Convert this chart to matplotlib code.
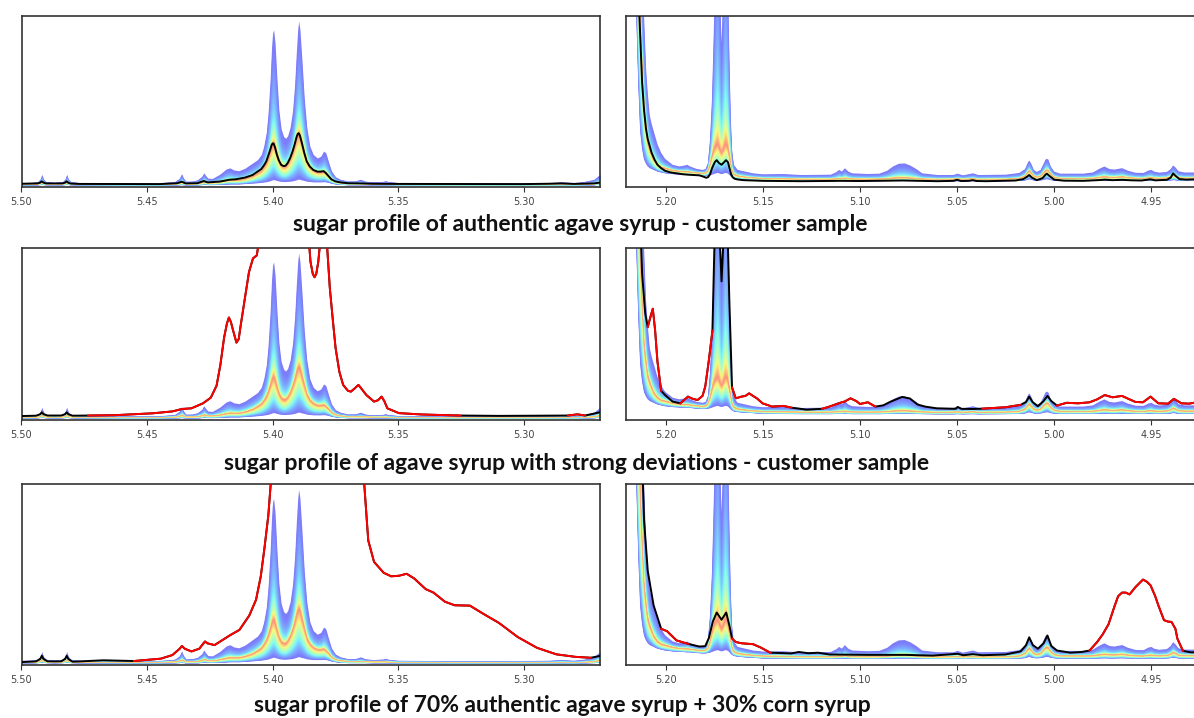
import numpy as np
import matplotlib
matplotlib.use("Agg")
import matplotlib.pyplot as plt
from matplotlib.ticker import MultipleLocator, FormatStrFormatter

# ---- reference band, left window (ppm, lower / median / upper envelope) ----
left_x = [5.500, 5.4960, 5.4935, 5.4925, 5.4919, 5.4913, 5.4903, 5.4870, 5.4836, 5.4826,
          5.4820, 5.4814, 5.4804, 5.4770, 5.4600, 5.4450, 5.4390, 5.4372, 5.4362, 5.4356,
          5.4346, 5.4320, 5.4300, 5.4282, 5.4274, 5.4268, 5.4258, 5.4240, 5.4210, 5.4185,
          5.4170, 5.4155, 5.4135, 5.4110, 5.4080, 5.4060, 5.4045, 5.4035, 5.4025, 5.4018,
          5.4010, 5.4004, 5.4000, 5.3996, 5.3990, 5.3983, 5.3975, 5.3966, 5.3956, 5.3948,
          5.3940, 5.3930, 5.3920, 5.3912, 5.3905, 5.3900, 5.3896, 5.3891, 5.3883, 5.3874,
          5.3864, 5.3852, 5.3838, 5.3822, 5.3808, 5.3797, 5.3788, 5.3778, 5.3766, 5.3750,
          5.3730, 5.3700, 5.3670, 5.3650, 5.3630, 5.3600, 5.3560, 5.3550, 5.3540, 5.3500,
          5.3300, 5.3100, 5.2900, 5.2850, 5.2800, 5.2760, 5.2720, 5.2696]
left_lo = [1.2, 1.2, 1.3, 1.4, 1.5, 1.4, 1.3, 1.2, 1.3, 1.4,
           1.5, 1.4, 1.3, 1.2, 1.1, 1.1, 1.2, 1.3, 1.4, 1.3,
           1.2, 1.2, 1.2, 1.4, 1.5, 1.5, 1.4, 1.4, 1.5, 1.7,
           1.8, 1.8, 1.8, 2.0, 2.3, 2.5, 2.7, 2.9, 3.1, 3.3,
           3.7, 4.0, 4.2, 4.3, 4.1, 3.8, 3.5, 3.3, 3.2, 3.2,
           3.3, 3.4, 3.6, 3.9, 4.2, 4.5, 4.6, 4.4, 4.1, 3.8,
           3.4, 3.2, 3.0, 3.0, 3.0, 3.1, 3.0, 2.7, 2.2, 1.8,
           1.5, 1.3, 1.3, 1.3, 1.3, 1.2, 1.2, 1.2, 1.2, 1.1,
           1.1, 1.1, 1.1, 1.1, 1.1, 1.2, 1.3, 1.6]
left_med = [1.9, 1.9, 2.1, 2.5, 3.0, 2.5, 2.1, 1.9, 2.1, 2.5,
            3.0, 2.5, 2.1, 1.9, 1.8, 1.8, 2.0, 2.5, 3.0, 2.6,
            2.1, 2.1, 2.3, 2.8, 3.3, 3.1, 2.7, 2.7, 3.2, 4.0,
            4.3, 4.2, 4.3, 5.0, 6.5, 8.3, 9.8, 11.8, 14.3, 17,
            20.5, 23.5, 24.8, 25, 22.5, 18.8, 15.2, 12.8, 12, 12.3,
            13.8, 16.5, 20.5, 24.5, 28.5, 30.5, 31, 29.5, 25, 19.8,
            14.8, 11.8, 9.8, 8.8, 8.8, 9.1, 8.0, 6.6, 4.6, 3.3,
            2.7, 2.3, 2.2, 2.2, 2.1, 2.0, 2.0, 2.0, 1.9, 1.8,
            1.7, 1.7, 1.7, 1.8, 1.7, 1.8, 2.2, 2.9]
left_hi = [2.6, 2.7, 3.2, 4.8, 7.4, 4.8, 3.2, 2.7, 3.2, 4.8,
           7.4, 4.8, 3.2, 2.6, 2.5, 2.5, 3.2, 5.0, 7.8, 5.5,
           3.4, 3.5, 4.2, 6.2, 8.3, 7.0, 5.2, 5.0, 7.5, 10.5,
           11.2, 10.0, 9.5, 11, 14, 16, 19, 24, 32, 43,
           62, 82, 90, 92, 84, 64, 45, 34, 29.5, 28.5,
           30, 35, 45, 60, 80, 92, 97, 92, 74, 52,
           35, 24, 19, 17, 18, 21, 20, 15, 9.5, 6.0,
           4.5, 3.5, 3.6, 4.5, 3.4, 3.0, 3.3, 3.7, 3.2, 2.6,
           2.4, 2.4, 2.6, 3.0, 2.6, 3.2, 4.5, 7.5]

# ---- reference band, right window ----
right_x = [5.2206, 5.2170, 5.2152, 5.2142, 5.2132, 5.2122, 5.2112, 5.2102, 5.2093, 5.2083,
           5.2073, 5.2063, 5.2043, 5.2024, 5.2004, 5.1965, 5.1930, 5.1905, 5.1890, 5.1875,
           5.1840, 5.1810, 5.1795, 5.1783, 5.1772, 5.1762, 5.1752, 5.1742, 5.1732, 5.1722,
           5.1713, 5.1703, 5.1693, 5.1683, 5.1674, 5.1666, 5.1659, 5.1650, 5.1630, 5.1590,
           5.1551, 5.1500, 5.1400, 5.1300, 5.1150, 5.1120, 5.1108, 5.1093, 5.1078, 5.1060,
           5.1040, 5.0960, 5.0900, 5.0860, 5.0830, 5.0800, 5.0770, 5.0740, 5.0710, 5.0680,
           5.0600, 5.0520, 5.0497, 5.0470, 5.0418, 5.0390, 5.0250, 5.0180, 5.0150, 5.0137,
           5.0129, 5.0120, 5.0105, 5.0090, 5.0070, 5.0055, 5.0045, 5.0038, 5.0030, 5.0018,
           5.0000, 4.9970, 4.9850, 4.9800, 4.9770, 4.9742, 4.9715, 4.9690, 4.9650, 4.9620,
           4.9580, 4.9540, 4.9515, 4.9500, 4.9485, 4.9460, 4.9420, 4.9400, 4.9388, 4.9376,
           4.9360, 4.9330, 4.9300, 4.9270]
right_lo = [400, 200, 100, 61, 32, 22, 16, 13.5, 12, 11,
            10.5, 10, 9.0, 8.5, 8.0, 7.5, 7.3, 7.1, 7.0, 7.0,
            6.6, 6.4, 6.4, 6.6, 6.8, 7.2, 7.6, 8.0, 8.2, 7.8,
            7.5, 7.8, 8.2, 8.0, 7.2, 6.2, 5.6, 5.0, 4.6, 4.2,
            4.0, 3.6, 3.5, 3.4, 3.4, 3.5, 3.5, 3.5, 3.6, 3.5,
            3.4, 3.4, 3.4, 3.5, 3.5, 3.6, 3.6, 3.6, 3.5, 3.4,
            3.3, 3.3, 3.4, 3.3, 3.4, 3.3, 3.4, 3.5, 3.8, 4.2,
            4.5, 4.2, 3.8, 3.7, 3.8, 4.1, 4.4, 4.5, 4.4, 4.0,
            3.7, 3.5, 3.5, 3.5, 3.6, 3.7, 3.6, 3.6, 3.7, 3.6,
            3.5, 3.5, 3.6, 3.6, 3.5, 3.5, 3.6, 3.8, 4.0, 3.9,
            3.6, 3.5, 3.5, 3.5]
right_med = [500, 300, 180, 130, 100, 70, 45, 34, 26, 22,
             19, 16, 13, 11.5, 11, 9.8, 9.2, 9.0, 9.0, 8.8,
             8.3, 8.0, 8.3, 9.5, 13, 18, 22, 24, 25, 22,
             20, 22, 25, 24, 19, 14, 9.5, 7.5, 6.5, 5.8,
             5.4, 5.0, 4.8, 4.6, 4.6, 4.8, 5.0, 4.9, 5.2, 4.9,
             4.7, 4.6, 4.7, 4.9, 5.2, 5.4, 5.4, 5.2, 5.0, 4.7,
             4.5, 4.6, 4.8, 4.5, 4.8, 4.5, 4.6, 5.0, 6.5, 8.5,
             9.5, 8.5, 6.5, 5.8, 6.5, 8.3, 9.5, 10, 9.5, 7.5,
             5.8, 5.1, 5.0, 5.1, 5.6, 6.0, 5.7, 5.6, 6.0, 5.5,
             5.1, 5.0, 5.4, 5.5, 5.2, 5.1, 5.3, 6.0, 7.0, 6.5,
             5.5, 5.2, 5.2, 5.2]
right_hi = [600, 400, 300, 220, 170, 125, 100, 70, 55, 42,
            37, 33, 25, 20, 16.5, 13, 12, 12.5, 13, 12,
            10.5, 10, 10.5, 14, 28, 52, 95, 140, 170, 120,
            84, 120, 170, 140, 85, 42, 22, 13, 10, 9.0,
            8.0, 7.4, 7.6, 7.0, 7.2, 8.8, 10, 9.0, 11, 9.0,
            8.0, 7.6, 7.8, 9.5, 12, 13.6, 13.8, 12.5, 10.5, 8.0,
            7.0, 7.0, 7.8, 6.8, 8.0, 7.0, 7.2, 8.2, 10.5, 14,
            15.5, 14, 10, 8.8, 10, 13.5, 16, 16.5, 16, 12,
            9.0, 7.8, 7.8, 8.5, 10.5, 12, 10.5, 10.2, 11, 9.5,
            8.3, 8.2, 9.6, 10, 9.0, 8.4, 8.8, 10.5, 12.6, 11.5,
            9.2, 8.5, 8.5, 8.5]

# ---- customer samples ----
s1_left_x = [5.500, 5.4935, 5.4925, 5.4919, 5.4913, 5.4903, 5.4836, 5.4826, 5.4820, 5.4814,
             5.4804, 5.4770, 5.4450, 5.4380, 5.4362, 5.4346, 5.4300, 5.4274, 5.4258, 5.4210,
             5.4170, 5.4147, 5.4110, 5.4080, 5.4060, 5.4045, 5.4035, 5.4025, 5.4018, 5.4010,
             5.4004, 5.4000, 5.3996, 5.3990, 5.3983, 5.3975, 5.3966, 5.3956, 5.3948, 5.3940,
             5.3930, 5.3920, 5.3912, 5.3905, 5.3900, 5.3896, 5.3891, 5.3883, 5.3874, 5.3864,
             5.3852, 5.3838, 5.3822, 5.3808, 5.3797, 5.3788, 5.3778, 5.3766, 5.3750, 5.3730,
             5.3700, 5.3650, 5.3600, 5.3500, 5.3000, 5.2900, 5.2850, 5.2800, 5.2720, 5.2696]
s1_left_y = [1.9, 2.1, 2.6, 3.3, 2.6, 2.1, 2.1, 2.6, 3.3, 2.5,
             2.0, 1.8, 1.7, 2.2, 3.1, 2.1, 2.2, 3.5, 2.7, 3.2,
             4.3, 4.5, 5.5, 7.0, 9.0, 10.5, 12.5, 15, 18, 21.5,
             24.5, 25.5, 25.5, 23, 19, 15.5, 13, 12.2, 12.5, 14,
             17, 21, 25, 29, 31, 31.5, 30, 25.5, 20, 15,
             12, 10, 9.0, 9.0, 9.3, 8.2, 6.5, 4.5, 3.3, 2.7,
             2.2, 2.1, 1.9, 1.8, 1.7, 1.9, 2.1, 1.8, 2.1, 2.6]
s1_right_x = [5.2206, 5.2150, 5.2136, 5.2122, 5.2112, 5.2102, 5.2093, 5.2083, 5.2073, 5.2058,
              5.2043, 5.2024, 5.2004, 5.1975, 5.1945, 5.1915, 5.1886, 5.1855, 5.1827, 5.1805,
              5.1792, 5.1782, 5.1772, 5.1762, 5.1748, 5.1738, 5.1726, 5.1713, 5.1700, 5.1690,
              5.1680, 5.1672, 5.1664, 5.1655, 5.1645, 5.1630, 5.1600, 5.1500, 5.1300, 5.1100,
              5.1000, 5.0780, 5.0600, 5.0520, 5.0500, 5.0480, 5.0440, 5.0420, 5.0400, 5.0350,
              5.0200, 5.0160, 5.0140, 5.0129, 5.0115, 5.0090, 5.0060, 5.0045, 5.0038, 5.0025,
              5.0000, 4.9950, 4.9850, 4.9760, 4.9740, 4.9700, 4.9650, 4.9600, 4.9550, 4.9505,
              4.9480, 4.9420, 4.9400, 4.9388, 4.9375, 4.9355, 4.9320, 4.9270]
s1_right_y = [500, 200, 100, 61, 45, 34, 28, 24, 20, 16,
              13, 11, 9.5, 8.5, 8.0, 7.5, 7.2, 7.0, 6.8, 6.0,
              5.4, 5.8, 7.5, 11, 14.5, 15.7, 14, 13, 14.5, 15.7,
              14.5, 11, 7.5, 5.6, 4.8, 4.4, 4.0, 3.6, 3.4, 3.6,
              3.5, 3.8, 3.4, 3.6, 4.2, 3.5, 3.6, 4.0, 3.5, 3.4,
              3.8, 4.6, 6.0, 7.0, 5.5, 4.0, 5.2, 7.2, 7.8, 6.5,
              4.3, 3.7, 3.6, 4.1, 4.3, 4.0, 4.2, 3.9, 3.8, 4.5,
              3.9, 4.2, 5.5, 8.0, 6.5, 4.6, 4.3, 4.5]

s2_left_x = [5.500, 5.4942, 5.4925, 5.4919, 5.4913, 5.4896, 5.4842, 5.4826, 5.482, 5.4814,
             5.4797, 5.4735, 5.4628, 5.4476, 5.4399, 5.4361, 5.4323, 5.4277, 5.4246, 5.4223,
             5.4208, 5.4193, 5.4182, 5.4174, 5.4166, 5.4159, 5.4144, 5.4135, 5.4127, 5.4109,
             5.4094, 5.4078, 5.4063, 5.4047, 5.4017, 5.3956, 5.3894, 5.3864, 5.3849, 5.3840,
             5.3833, 5.3826, 5.3818, 5.3803, 5.3787, 5.3772, 5.3760, 5.3749, 5.3734, 5.3719,
             5.3700, 5.3688, 5.3672, 5.3658, 5.3645, 5.3627, 5.3596, 5.3580, 5.3566, 5.3555,
             5.3543, 5.3497, 5.3405, 5.3252, 5.3099, 5.2947, 5.2824, 5.2786, 5.2755, 5.2696]
s2_left_y = [2.3, 2.5, 3.4, 4.5, 3.4, 2.6, 2.6, 3.4, 4.5, 3.4,
             2.5, 2.6, 2.8, 3.9, 5.0, 6.4, 6.8, 9.7, 13, 20,
             32, 48, 56, 59.6, 57, 53, 45, 47, 55, 72,
             86, 94, 95.7, 110, 160, 200, 200, 120, 92, 85,
             83, 85, 92, 115, 110, 76.7, 58, 41.7, 28, 20.4,
             17, 16.5, 18.5, 20.4, 18, 14.6, 10.7, 11.5, 13.6, 11,
             6.8, 4.0, 3.2, 2.6, 2.4, 2.5, 2.6, 3.3, 2.6, 4.5]
s2_right_x = [5.2206, 5.2142, 5.2122, 5.2106, 5.2093, 5.2079, 5.2067, 5.2055, 5.2043, 5.2024,
              5.2004, 5.1965, 5.1925, 5.1886, 5.1866, 5.1837, 5.1811, 5.1797, 5.1778, 5.1760,
              5.1750, 5.1738, 5.1724, 5.1713, 5.1701, 5.1689, 5.1673, 5.1659, 5.1640, 5.1610,
              5.1590, 5.1571, 5.1551, 5.1531, 5.1502, 5.1453, 5.1394, 5.1354, 5.1275, 5.1196,
              5.1157, 5.1108, 5.1078, 5.1049, 5.1019, 5.1000, 5.0960, 5.0921, 5.0881, 5.0842,
              5.0783, 5.0743, 5.0704, 5.0665, 5.0606, 5.0507, 5.0497, 5.0478, 5.0419, 5.0370,
              5.0252, 5.0173, 5.0145, 5.0129, 5.0112, 5.0084, 5.0055, 5.0035, 5.0015, 4.9986,
              4.9936, 4.9877, 4.9818, 4.9779, 4.9740, 4.9700, 4.9651, 4.9612, 4.9582, 4.9543,
              4.9504, 4.9464, 4.9414, 4.9384, 4.9345, 4.9306, 4.9267]
s2_right_y = [400, 150, 85, 62, 54, 60, 64.7, 52, 34, 17,
              14.5, 10.7, 9.7, 13.6, 12.5, 11.6, 14, 19.4, 35, 52,
              100, 140, 110, 80.6, 110, 140, 70, 19, 12.6, 13.6,
              14, 15.5, 14, 12.6, 9.7, 7.8, 8.2, 7.2, 6.0, 6.5,
              7.8, 9.8, 10.8, 12.6, 11, 9.3, 10.3, 7.8, 8.5, 10.7,
              13.4, 12.5, 9.0, 7.8, 6.8, 6.5, 7.6, 6.5, 6.4, 6.6,
              7.4, 8.8, 10.5, 13.6, 10.5, 8.0, 11, 14, 11, 8.4,
              10, 9.7, 10.3, 12, 14.5, 13.2, 14, 12, 10.5, 10.3,
              13.6, 9.7, 9.5, 12.3, 9.7, 9.5, 10.3]

s3_left_x = [5.500, 5.4942, 5.4925, 5.4919, 5.4913, 5.4896, 5.4842, 5.4826, 5.482, 5.4814,
             5.4797, 5.4674, 5.4552, 5.4445, 5.4399, 5.4370, 5.4361, 5.4350, 5.4323, 5.4292,
             5.4275, 5.4269, 5.4260, 5.4231, 5.4170, 5.4132, 5.4093, 5.4066, 5.4047, 5.4032,
             5.4017, 5.4002, 5.3864, 5.3650, 5.3635, 5.3619, 5.3596, 5.3558, 5.3528, 5.3497,
             5.3466, 5.3436, 5.3390, 5.3359, 5.3314, 5.3275, 5.3214, 5.3161, 5.3099, 5.3023,
             5.2947, 5.2870, 5.2794, 5.2733, 5.2696]
s3_left_y = [1.6, 2.0, 3.4, 5.1, 3.4, 2.0, 2.0, 3.4, 5.1, 3.4,
             1.8, 2.6, 2.2, 3.5, 5.5, 9.0, 10.5, 9.0, 7.5, 9.0,
             12, 13, 12, 11, 16.4, 19.4, 27.3, 36, 49, 65,
             82.6, 110, 300, 130, 100, 68.8, 57, 51, 49, 49.3,
             50.4, 47.8, 41.9, 40, 35, 33, 32.8, 28.3, 23.3, 15.4,
             9.5, 5.9, 4.5, 4.0, 5.0]
s3_right_x = [5.2206, 5.2132, 5.2112, 5.2093, 5.2063, 5.2024, 5.1994, 5.1945, 5.1886, 5.1827,
              5.1797, 5.1778, 5.1758, 5.1738, 5.1713, 5.1689, 5.1673, 5.1659, 5.1640, 5.1610,
              5.1551, 5.1512, 5.1462, 5.1354, 5.1315, 5.1266, 5.1216, 5.1157, 5.0960, 5.0764,
              5.0626, 5.0497, 5.0468, 5.0419, 5.0370, 5.0252, 5.0173, 5.0145, 5.0129, 5.0110,
              5.0084, 5.0055, 5.0035, 5.0015, 4.9986, 4.9917, 4.9858, 4.9818, 4.9779, 4.9750,
              4.9720, 4.9691, 4.9671, 4.9651, 4.9632, 4.9612, 4.9582, 4.9543, 4.9523, 4.9504,
              4.9480, 4.9464, 4.9435, 4.9415, 4.9396, 4.9376, 4.9366, 4.9337, 4.9297, 4.9267]
s3_right_y = [400, 150, 80, 52, 33, 20, 18.7, 13.6, 11.7, 10.2,
              10.4, 15, 24, 29, 25, 29, 22, 14.6, 12.7, 12,
              11.5, 9.7, 6.8, 6.4, 7.2, 6.5, 6.8, 5.8, 5.6, 5.6,
              5.2, 6.2, 5.4, 6.0, 5.4, 5.8, 7.5, 11, 15.3, 11,
              9.0, 12, 16.3, 10.5, 8.0, 6.8, 7.2, 8.0, 12.7, 17,
              22.6, 32, 38, 40, 40, 39, 43, 47.2, 46, 44,
              38, 33, 24.8, 24, 23.8, 20, 14.6, 7.8, 7.0, 7.0]

titles = ["sugar profile of authentic agave syrup - customer sample",
          "sugar profile of agave syrup with strong deviations - customer sample",
          "sugar profile of 70% authentic agave syrup + 30% corn syrup"]
title_x = [580, 577, 562]
title_y = [225, 463, 706]

samples = [(s1_left_x, s1_left_y, s1_right_x, s1_right_y),
           (s2_left_x, s2_left_y, s2_right_x, s2_right_y),
           (s3_left_x, s3_left_y, s3_right_x, s3_right_y)]

W, H = 1194, 718
# axes boxes in pixels: (top, bottom)
row_px = [(16, 187), (248, 420), (484, 665)]
cmap = plt.get_cmap("jet")


def draw_band(ax, x, lo, med, hi):
    # nested quantile-like layers: red at the median, blue at the outer envelope
    x, lo, med, hi = map(np.asarray, (x, lo, med, hi))
    n = 36
    for i in range(n, 0, -1):
        s = i / n
        fu = 0.25 * s + 0.75 * s ** 5
        c = 0.9 - 0.8 * s ** 0.85
        r, g, b, _ = cmap(c)
        col = (0.5 * r + 0.49, 0.5 * g + 0.49, 0.5 * b + 0.49)
        ax.fill_between(x, med - s * (med - lo), med + fu * (hi - med),
                        color=col, lw=0, zorder=1)


def draw_sample(ax, x, y, bx, bhi):
    x, y = np.asarray(x), np.asarray(y)
    hi_at = np.interp(x[::-1], np.asarray(bx)[::-1], np.asarray(bhi)[::-1])[::-1]
    out = y > hi_at + 0.2
    mark = out.copy()
    mark[1:] |= out[:-1]
    mark[:-1] |= out[1:]
    ax.plot(x, y, color="black", lw=1.4, zorder=3)
    ax.plot(x, np.where(mark, y, np.nan), color="red", lw=1.4, zorder=4)


def style(ax):
    ax.set_ylim(0, 100)
    ax.set_yticks([])
    ax.xaxis.set_major_locator(MultipleLocator(0.05))
    ax.xaxis.set_major_formatter(FormatStrFormatter("%.2f"))
    ax.tick_params(axis="x", labelsize=7, colors="#333333", length=3.5,
                   width=0.8, pad=4, labelcolor="#444444")
    for s in ax.spines.values():
        s.set_color("#333333")
        s.set_linewidth(1.2)


fig = plt.figure(figsize=(W / 100, H / 100), dpi=100)

for r, (top, bot) in enumerate(row_px):
    y0 = (H - bot) / H
    h = (bot - top) / H
    axl = fig.add_axes([21.5 / W, y0, 578.5 / W, h])
    axr = fig.add_axes([626 / W, y0, 570 / W, h])

    draw_band(axl, left_x, left_lo, left_med, left_hi)
    draw_band(axr, right_x, right_lo, right_med, right_hi)
    lx, ly, rx, ry = samples[r]
    draw_sample(axl, lx, ly, left_x, left_hi)
    draw_sample(axr, rx, ry, right_x, right_hi)

    axl.set_xlim(5.50, 5.2696)
    axr.set_xlim(5.2205, 4.927)
    style(axl)
    style(axr)

    fig.text(title_x[r] / W, 1 - title_y[r] / H, titles[r], ha="center", va="center",
             fontsize=16.5, fontweight="bold", family=["Lato", "DejaVu Sans"],
             color="#111111")

fig.savefig("out.png", dpi=100)
